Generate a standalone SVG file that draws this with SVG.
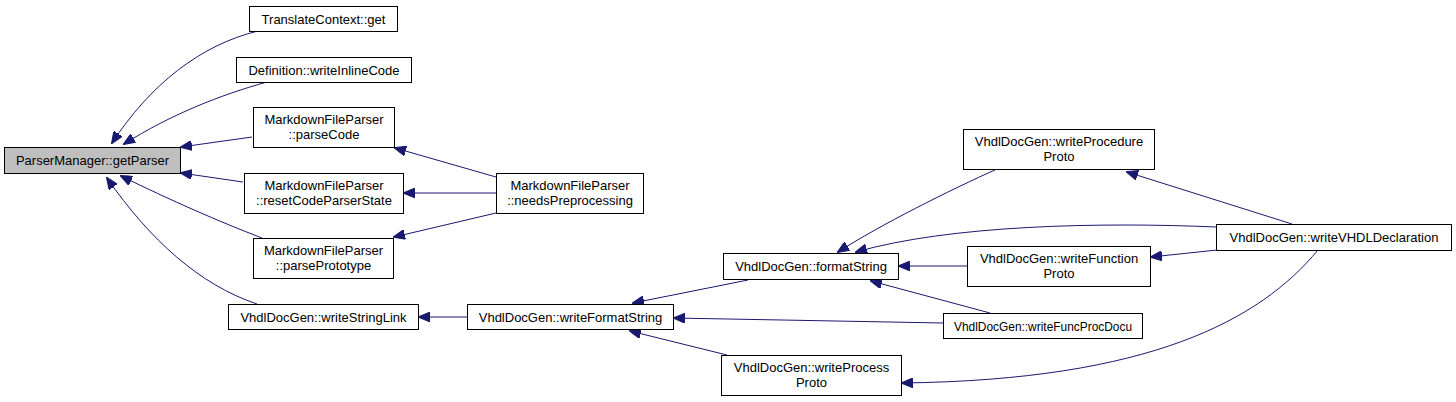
<svg xmlns="http://www.w3.org/2000/svg" width="1456" height="402" viewBox="0 0 1456 402">
<style>
  .box { fill: #ffffff; stroke: #000000; stroke-width: 1; }
  .cur { fill: #bfbfbf; stroke: #000000; stroke-width: 1; }
  text { font-family: "Liberation Sans", Arial, sans-serif; font-size: 13px; fill: #000000; text-anchor: middle; }
  .e { fill: none; stroke: #191970; stroke-width: 1; marker-end: url(#ah); }
</style>
<defs>
  <marker id="ah" viewBox="0 0 12 10" refX="11" refY="5" markerWidth="12" markerHeight="10" markerUnits="userSpaceOnUse" orient="auto">
    <path d="M0,0 L12,5 L0,10 Z" fill="#191970" stroke="#191970"/>
  </marker>
</defs>
<rect width="1456" height="402" fill="#ffffff"/>
<g id="edges">
  <path class="e" d="M258,31 C200,45 150,85 112,143"/>
  <path class="e" d="M267,82 C220,95 170,115 124,144"/>
  <path class="e" d="M252,137 L181,147"/>
  <path class="e" d="M243,182 L181,173"/>
  <path class="e" d="M262,238 C220,222 170,200 121,176"/>
  <path class="e" d="M257,304 C200,285 150,240 107,178"/>
  <path class="e" d="M496,177 L395,148"/>
  <path class="e" d="M496,193 L404,193"/>
  <path class="e" d="M496,213 L394,237"/>
  <path class="e" d="M467,317 L419,317"/>
  <path class="e" d="M748,280 L633,303"/>
  <path class="e" d="M943,323 L674,318"/>
  <path class="e" d="M727,355 L630,331"/>
  <path class="e" d="M997,169 C950,190 880,225 838,252"/>
  <path class="e" d="M1216,227 C1100,222 950,225 856,252"/>
  <path class="e" d="M967,266 L899,266"/>
  <path class="e" d="M990,313 L871,281"/>
  <path class="e" d="M1292,224 L1127,172"/>
  <path class="e" d="M1217,250 L1151,257"/>
  <path class="e" d="M1318,250 C1260,320 1150,380 902,383"/>
</g>
<g id="n_getParser"><rect class="cur" x="4.5" y="147.5" width="176" height="26"/><text x="92.5" y="165">ParserManager::getParser</text></g>
<g id="n_translate"><rect class="box" x="249.5" y="6.5" width="148" height="25"/><text x="323.5" y="23.5">TranslateContext::get</text></g>
<g id="n_inline"><rect class="box" x="236.5" y="57.5" width="175" height="25"/><text x="324" y="74.5">Definition::writeInlineCode</text></g>
<g id="n_parseCode"><rect class="box" x="253.5" y="107.5" width="141" height="40"/><text x="324" y="124">MarkdownFileParser</text><text x="324" y="139">::parseCode</text></g>
<g id="n_reset"><rect class="box" x="244.5" y="173.5" width="159" height="40"/><text x="324" y="190">MarkdownFileParser</text><text x="324" y="205">::resetCodeParserState</text></g>
<g id="n_proto"><rect class="box" x="253.5" y="238.5" width="140" height="40"/><text x="323.5" y="255">MarkdownFileParser</text><text x="323.5" y="270">::parsePrototype</text></g>
<g id="n_strlink"><rect class="box" x="228.5" y="304.5" width="190" height="25"/><text x="323.5" y="321.5">VhdlDocGen::writeStringLink</text></g>
<g id="n_needs"><rect class="box" x="496.5" y="173.5" width="147" height="40"/><text x="570" y="190">MarkdownFileParser</text><text x="570" y="205">::needsPreprocessing</text></g>
<g id="n_fmtstr"><rect class="box" x="467.5" y="304.5" width="206" height="25"/><text x="570.5" y="321.5">VhdlDocGen::writeFormatString</text></g>
<g id="n_format"><rect class="box" x="723.5" y="253.5" width="175" height="26"/><text x="811" y="271">VhdlDocGen::formatString</text></g>
<g id="n_process"><rect class="box" x="721.5" y="355.5" width="180" height="40"/><text x="811.5" y="372">VhdlDocGen::writeProcess</text><text x="811.5" y="387">Proto</text></g>
<g id="n_procedure"><rect class="box" x="963.5" y="129.5" width="191" height="40"/><text x="1059" y="146">VhdlDocGen::writeProcedure</text><text x="1059" y="161">Proto</text></g>
<g id="n_vhdldecl"><rect class="box" x="1216.5" y="224.5" width="235" height="26"/><text x="1334" y="242">VhdlDocGen::writeVHDLDeclaration</text></g>
<g id="n_function"><rect class="box" x="967.5" y="246.5" width="183" height="40"/><text x="1059" y="263">VhdlDocGen::writeFunction</text><text x="1059" y="278">Proto</text></g>
<g id="n_funcproc"><rect class="box" x="943.5" y="313.5" width="199" height="25"/><text x="1043" y="330.5" textLength="178" lengthAdjust="spacingAndGlyphs">VhdlDocGen::writeFuncProcDocu</text></g>
</svg>
